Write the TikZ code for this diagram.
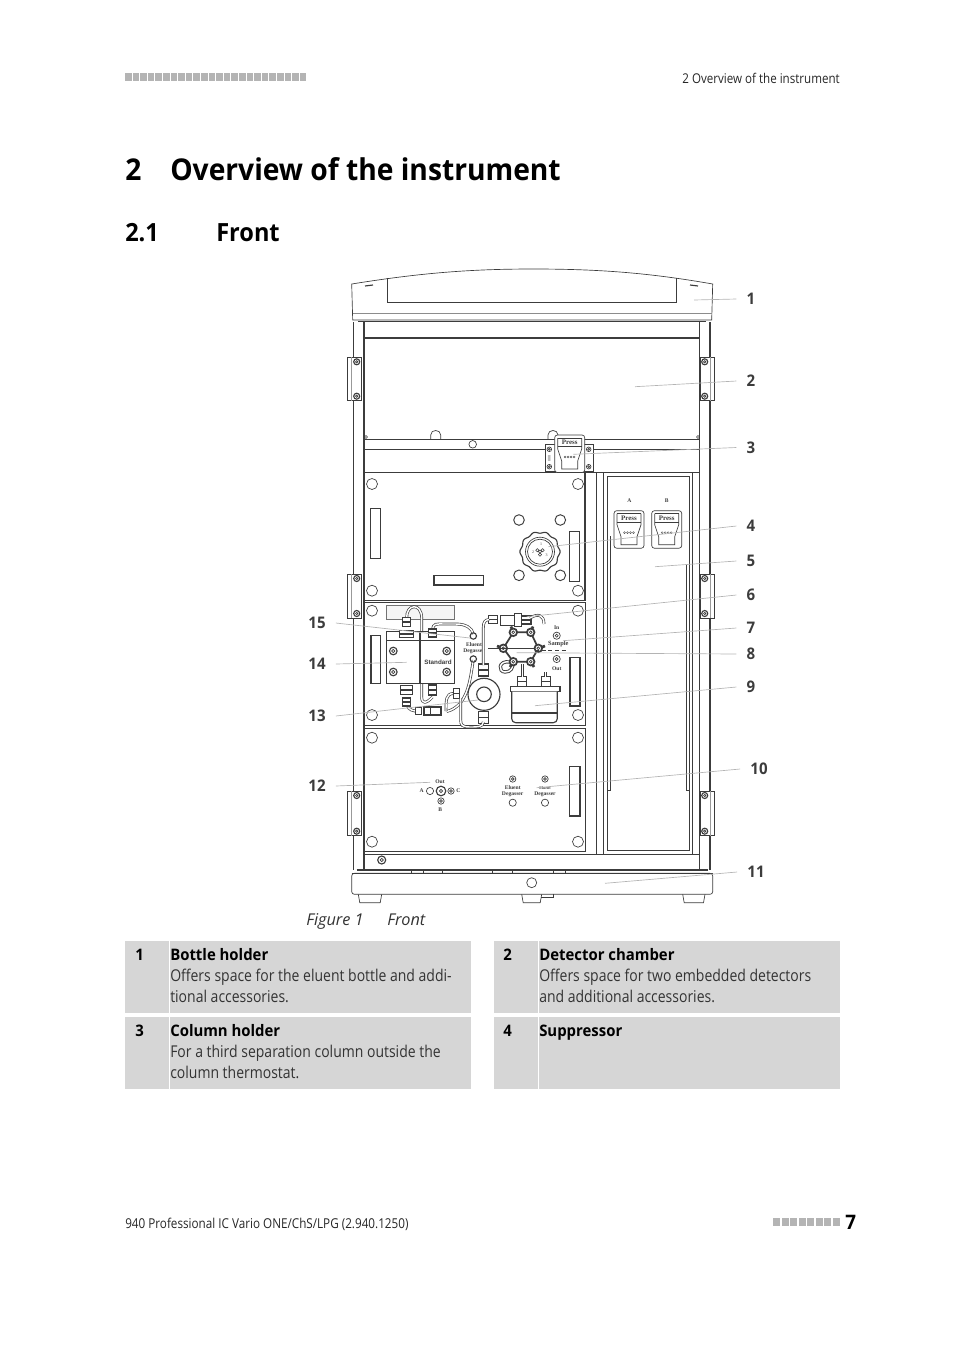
\documentclass[tikz,border=0pt]{standalone}
\usepackage{fontspec}
\setmainfont{Open Sans}[FakeStretch=0.86]
\newfontfamily\headfont{Open Sans}[FakeStretch=0.94]
\newfontfamily\capfont{Open Sans}
\newfontfamily\drawfont{Liberation Serif}
\newfontfamily\labelfont{Liberation Sans}
\definecolor{inkgray}{HTML}{3C3C3C}
\definecolor{leadgray}{HTML}{B4B4B4}
\definecolor{cellgray}{HTML}{D6D6D6}
\definecolor{markgray}{HTML}{B4B4B4}
\tikzset{
  outline/.style={draw=inkgray, line width=0.5pt},
  heavy/.style={draw=inkgray, line width=0.85pt},
  leader/.style={draw=leadgray, line width=0.5pt},
  tube/.style={draw=inkgray, double=white, double distance=1.1pt, line width=0.5pt},
  callout/.style={font=\headfont\fontsize{12}{14}\selectfont\bfseries, text=inkgray, inner xsep=7.5pt, inner ysep=1pt},
  bodytext/.style={font=\fontsize{12.2}{14}\selectfont, text=black!80, anchor=base west, inner sep=0pt},
  headtext/.style={font=\headfont\fontsize{11.9}{14}\selectfont\bfseries, text=black, anchor=base west, inner sep=0pt},
  tinytext/.style={font=\drawfont\bfseries\fontsize{4.2}{5}\selectfont, text=inkgray, inner sep=0pt},
  cell/.style={fill=cellgray, draw=none, anchor=north west, minimum width=259.5pt, minimum height=54pt, inner sep=0pt},
  pressclip/.pic={
    \draw[outline, fill=white, rounded corners=2] (-15,0) rectangle (15,37.5);
    \draw[outline] (-12,3) to (12,3);
    \draw[heavy] (-12,11.5) to (12,11.5);
    \draw[outline] (-12,3) to (-12,14) to (-8,26) to (-8,34) to (8,34) to (8,26) to (12,14) to (12,3);
    \node[tinytext, font=\drawfont\bfseries\fontsize{5.2}{6}\selectfont] (word) at (0,7.3) {Press};
    \foreach \d in {-4.5,-1.5,1.5,4.5} \draw[draw=inkgray, line width=0.25pt] (\d,22) circle (1);
  },
}
\begin{document}
\begin{tikzpicture}[x=0.75pt, y=-0.75pt]
\useasboundingbox (0,0) rectangle (954,1350);
\foreach \i in {0,...,23} \fill[markgray] (125+7.6*\i,73) rectangle ++(6.6,8);
\foreach \i in {0,...,7} \fill[markgray] (773+8.5*\i,1218) rectangle ++(7.2,8);
\node[anchor=base east, inner sep=0pt, font=\fontsize{10.1}{12}\selectfont, text=black!85] (running) at (840,83) {2 Overview of the instrument};
\node[anchor=base west, inner sep=0pt, font=\headfont\fontsize{22.5}{26}\selectfont\bfseries] (chapnum) at (125,180) {2};
\node[anchor=base west, inner sep=0pt, font=\headfont\fontsize{22.5}{26}\selectfont\bfseries] (chaptitle) at (170,180) {Overview of the instrument};
\node[anchor=base west, inner sep=0pt, font=\headfont\fontsize{18.8}{22}\selectfont\bfseries] (secnum) at (125,241) {2.1};
\node[anchor=base west, inner sep=0pt, font=\headfont\fontsize{18.8}{22}\selectfont\bfseries] (sectitle) at (216,241) {Front};
% lid
\draw[outline] (351.7,284) .. controls (420,273) and (470,269) .. (533,269) .. controls (600,269) and (650,273) .. (712.7,284) to (711.7,320) to (352.7,320) -- cycle;
\draw[draw=black!45, line width=0.4pt] (352.5,313.5) to (711.5,313.5);
\draw[outline] (387.7,278) to (387.7,302) to (676,302) to (676,278);
\draw[heavy] (365,286) to (373,285); \draw[heavy] (690,285) to (698,286);
\draw[heavy] (358,321.5) to (706,321.5);
% frame
\draw[heavy] (353.3,322) to (353.3,870);
\draw[heavy] (364,322) to (364,870);
\draw[heavy] (699.3,322) to (699.3,870);
\draw[heavy] (710,322) to (710,870);
\draw[heavy] (364,338) to (699.3,338);
\draw[heavy] (364,439.3) to (699.3,439.3);
\draw[outline] (364,449.3) to (699.3,449.3);
\draw[heavy] (585,472.5) to (699.3,472.5);
\draw[outline] (364,854) to (699.3,854);
\foreach \xa/\dx in {430.7/10, 548/10} \draw[outline] (\xa,439) to (\xa,435) .. controls (\xa,429) and (\xa+\dx,429) .. (\xa+\dx,435) to (\xa+\dx,439);
\draw[outline, fill=white] (472.7,444.3) circle (3.8);
\draw[outline] (366,437) circle (1.5);
\draw[outline] (698,437) circle (1.5);
% hinges
\foreach \ya/\yb in {357.3/400.7, 574/618, 791/835.7} {
  \draw[outline, fill=white] (347.3,\ya) rectangle (361.7,\yb);
  \draw[outline, fill=white] (700.7,\ya) rectangle (714,\yb);
  \draw[draw=black!40, line width=0.4pt] (351,\ya) to (351,\yb);
  \draw[draw=black!40, line width=0.4pt] (710.5,\ya) to (710.5,\yb);
  \foreach \xs in {356.7,704.7} \foreach \ys in {\ya+4.5,\yb-4.5} {
    \draw[heavy, fill=white] (\xs,\ys) circle (3);
    \draw[outline] (\xs,\ys) circle (1.2);
  }
}
% right chamber
\draw[heavy] (596.7,472) to (596.7,854);
\draw[outline] (603.3,472) to (603.3,854);
\draw[outline] (607.7,476) to (607.7,850) to (689,850) to (689,476) to cycle;
\draw[outline] (692.7,472) to (692.7,854);
\draw[outline] (610,536) to (610,790) to (607.7,790);
\draw[outline] (686,565) to (686,790) to (689,790);
\node[tinytext] (markA) at (629.3,500.7) {A};
\node[tinytext] (markB) at (666.7,500.7) {B};
\pic (clipA) at (629,510.7) {pressclip};
\pic (clipB) at (666.7,510.7) {pressclip};
% three panels
\draw[heavy, fill=white] (364.7,472.5) rectangle (585,600.7);
\draw[outline, fill=white] (364.7,602.5) rectangle (585,725.5);
\draw[outline, fill=white] (364.7,728.3) rectangle (585.7,851.7);
% column holder
\draw[outline, fill=white] (545,444.3) rectangle (593.3,471);
\foreach \xs in {549.3,588.7} \foreach \ys in {449.3,466.7} {
  \draw[outline] (\xs,\ys) circle (2.3);
  \draw[outline] (\xs,\ys) circle (1);
}
\pic (clipC) at (569.7,435) {pressclip};
\node[tinytext, rotate=90, font=\drawfont\fontsize{3}{4}\selectfont] (clipmark) at (549.3,458) {000};
\foreach \xh/\yh in {372/484, 578/484, 372/590.7, 578/590.7, 372/610.7, 578/610.7, 372/715, 578/715, 372/737.7, 578/737.7, 372/841.7, 578/841.7}
  \draw[outline] (\xh,\yh) circle (5.5);
\foreach \xh/\yh in {519/520, 560.3/520, 519/575.3, 560.3/575.3}
  \draw[outline, line width=0.7pt] (\xh,\yh) circle (5.3);
\foreach \xa/\ya/\xb/\yb in {370.7/508.7/380.7/558.3, 569.3/531.3/579.3/581.3, 434/575.3/483.7/585, 371/635.7/380.7/683.3, 570/657.3/580/706, 569.3/766.7/580/816}
  \draw[heavy, fill=white] (\xa,\ya) rectangle (\xb,\yb);
% knob
\draw[heavy] plot[domain=0:360, samples=121, smooth] ({540+(19.3+0.8*cos(10*\x))*cos(\x)},{551.7+(19.3+0.8*cos(10*\x))*sin(\x)});
\draw[outline] (540,551.7) circle (14.5);
\draw[outline] (540,551.7) circle (12.5);
\foreach \a in {90,210,330} \draw[draw=inkgray, line width=0.4pt] (540,551.7) +(\a:3) circle (1.6);
\draw[draw=inkgray, line width=0.4pt] (540,551.7) circle (1.6);
\node[tinytext, font=\drawfont\fontsize{3}{4}\selectfont] (knobone) at (541,544.5) {1};
\node[tinytext, font=\drawfont\fontsize{3}{4}\selectfont] (knobtwo) at (533,552) {2};
\node[tinytext, font=\drawfont\fontsize{3}{4}\selectfont] (knobthree) at (546.5,555) {3};
% separation columns
\draw[draw=black!55, line width=0.5pt, fill=black!4] (386.7,605) rectangle (454.7,619);
\draw[tube] (406.7,618) .. controls (406,604) and (421.5,602) .. (421.7,618) to (421.7,697) .. controls (421.7,704) and (426,704) .. (432.5,697);
\draw[tube] (432.7,630) .. controls (433,623) and (436,624) .. (445,624) to (456,624) .. controls (466,624) and (472,628) .. (473.3,634);
\draw[heavy, fill=white] (386.7,631.7) rectangle (420,683.3);
\draw[heavy, fill=white] (420,631.7) rectangle (454.3,683.3);
\draw[outline] (386.7,640) to (454.3,640);
\foreach \xs/\ys in {393.3/651, 393.3/672, 446.7/651, 446.7/672} {
  \draw[heavy] (\xs,\ys) circle (3.8);
  \draw[outline] (\xs,\ys) circle (1.6);
}
\node[font=\labelfont\bfseries\fontsize{4.7}{6}\selectfont, text=inkgray, inner sep=0pt] (standard) at (438,662.3) {Standard};
\draw[tube] (473.3,660) .. controls (470,680) and (468,706) .. (446.7,711.5);
\draw[tube] (446,711) .. controls (446,700) and (446,694) .. (453,693.5);
\draw[tube] (407,705) .. controls (409,710) and (412,711) .. (420,711.5);
\foreach \xn/\yn/\wn/\hn in {406.7/622/3.8/4.5, 406.7/634/7/3.5, 432.7/633/4/4, 406.7/690/6/4.2, 406.7/702/4/4, 432.7/690/4/5, 456.7/693.3/3.2/5, 483.3/670/5/6, 483.3/717.3/5/6, 522.3/681.7/4.5/5.5, 545.7/681.7/4.5/5.5, 492.7/619.3/4.5/4, 526/620/5/4}
  \draw[heavy, fill=white] (\xn-\wn,\yn-\hn) rectangle (\xn+\wn,\yn+\hn) (\xn-\wn,\yn) to (\xn+\wn,\yn);
\draw[outline, fill=white] (415,707.5) rectangle (421,714);
\draw[heavy, fill=white] (424,707) rectangle (441,715);
\draw[outline] (430,707) to (430,715);
% degasser ports
\draw[heavy] (473.3,636) circle (3.2);
\draw[heavy] (473.3,659) circle (3.2);
\node[tinytext] (eluenta) at (474,645) {Eluent};
\node[tinytext] (degassera) at (474,651) {Degasser};
% detector and tubing
\draw[tube] (483.3,665) to (483.3,628) .. controls (483.3,622) and (485,620) .. (489,619.5);
\draw[tube] (483.3,722) .. controls (483,727) and (478,727) .. (470,727) .. controls (462,727) and (460.7,725) .. (460.7,720) to (460.7,698);
\draw[heavy, fill=white] (484,694.3) circle (16);
\draw[heavy] (484,694.3) circle (7.3);
\draw[outline, fill=white] (500,615) rectangle (520,625);
\draw[outline, fill=white] (514,613.5) rectangle (521,626.5);
\draw[tube] (530,618) .. controls (538,613) and (544,615) .. (544,624);
% valve
\draw[tube] (522.3,677) to (522.3,664);
\draw[tube] (545.7,677) to (545.7,672);
\draw[tube, line width=0.7pt] (510,662) .. controls (498,660) and (498,672) .. (505,672) .. controls (511,672) and (513,668) .. (513.3,662);
\draw[heavy, line width=1.3pt] (513.3,632.3) to (530.7,632.3) to (538.3,648.3) to (530.7,661.7) to (513.3,661.7) to (503.3,648.3) to cycle;
\foreach \xv/\yv/\xw/\yw in {513.3/632.3/511/626.5, 530.7/632.3/533/626.5, 538.3/648.3/545/646, 530.7/661.7/534/667, 513.3/661.7/510/667, 503.3/648.3/497/646} {
  \draw[draw=inkgray, line width=2pt] (\xv,\yv) to (\xw,\yw);
  \draw[heavy, line width=1.3pt, fill=white] (\xv,\yv) circle (3.8);
  \draw[outline] (\xv,\yv) circle (1.4);
}
\draw[draw=inkgray, line width=1.1pt] (488.3,648.7) to (535,648.7);
\draw[draw=inkgray, line width=0.5pt, densely dashed] (535,650) to (567,650);
\foreach \ys in {635.7,659} {
  \draw[outline] (556.7,\ys) circle (3.6);
  \draw[outline] (556.7,\ys) circle (1.5);
}
\node[tinytext] (portin) at (556.7,627.3) {In};
\node[tinytext, font=\drawfont\bfseries\fontsize{4.8}{5}\selectfont] (portsample) at (558.3,644.3) {Sample};
\node[tinytext] (portout) at (556.7,668.3) {Out};
% bottle
\draw[heavy, fill=white] (510.7,686.7) rectangle (560,691.7);
\draw[heavy, fill=white, rounded corners=3] (511.7,691.7) to (511.7,722.7) to (557.3,722.7) to (557.3,691.7);
\draw[draw=inkgray, line width=1.5pt] (511.7,713.3) to (557.3,713.3);
% lower panel
\foreach \xs/\ys in {451/791, 441/801, 512.7/779, 545/779} {
  \draw[outline] (\xs,\ys) circle (3.2);
  \draw[outline] (\xs,\ys) circle (1.4);
}
\draw[heavy] (441,791) circle (4.8);
\draw[outline] (441,791) circle (1.6);
\foreach \xs/\ys in {430/791, 512.7/802.7, 545/802.7} \draw[outline] (\xs,\ys) circle (3.6);
\node[tinytext] (portout2) at (440,781.7) {Out};
\node[tinytext] (portA) at (421.7,791) {A};
\node[tinytext] (portC) at (458.3,791) {C};
\node[tinytext] (portB) at (440.3,810) {B};
\node[tinytext] (eluentb) at (512.7,787.7) {Eluent};
\node[tinytext] (degasserb) at (512.7,794.3) {Degasser};
\node[tinytext, font=\drawfont\bfseries\fontsize{3}{4}\selectfont] (eluentc) at (545,787.7) {Eluent};
\node[tinytext] (degasserc) at (545,794.3) {Degasser};
\draw[heavy] (381.7,860) circle (4);
\draw[outline] (381.7,860) circle (1.6);
% base
\draw[outline, fill=white, rounded corners=2] (351.7,873.3) to (351.7,894.3) to (712.7,894.3) to (712.7,873.3) -- cycle;
\draw[heavy] (356.7,870) to (707.7,870);
\draw[outline] (351.7,873.3) to (712.7,873.3);
\foreach \xa in {411.7,423.3,442.7,492.7,512.7,553.3,565.3} \draw[outline] (\xa,870) to (\xa,873.3);
\draw[outline] (531.7,882.7) circle (5);
\foreach \xa/\xb in {358.3/381.7, 521.7/541.7, 682.7/705}
  \draw[outline] (\xa,894.3) to (\xa+1.5,902.7) to (\xb-1.5,902.7) to (\xb,894.3);
\draw[outline] (541,897) to (553,897) to (553,894.3);
% callouts
\foreach \n/\xl/\yl/\xp/\yp in {1/751/299/694/300, 2/751/381/635/386.7, 3/751/447.5/573.3/454.3, 4/751/526/548.3/546.7, 5/751/561/655/566.7, 6/751/595/526.7/616.7, 7/751/628/563/640.7, 8/751/654/516.7/652.7, 9/751/687/535/705.7, 10/759/769/536.7/787.7, 11/756/872/605/883.3} {
  \coordinate (tip\n) at (\xp,\yp);
  \node[callout] (num\n) at (\xl,\yl) {\n};
  \draw[leader] (tip\n) to (num\n.west);
}
\foreach \n/\yl/\xp/\yp in {12/786/430/782.3, 13/716/478/700, 14/664/406.7/662.3, 15/623/470/638} {
  \coordinate (tip\n) at (\xp,\yp);
  \node[callout] (num\n) at (317,\yl) {\n};
  \draw[leader] (tip\n) to (num\n.east);
}
\node[anchor=base west, inner sep=0pt, font=\capfont\fontsize{12.2}{14}\selectfont\itshape, text=black!80] (figlabel) at (306,925) {Figure 1};
\node[anchor=base west, inner sep=0pt, font=\capfont\fontsize{12.2}{14}\selectfont\itshape, text=black!80] (figtitle) at (387,925) {Front};
% table
\node[cell] (cella) at (125,941) {};
\node[cell] (cellb) at (494,941) {};
\node[cell] (cellc) at (125,1017) {};
\node[cell] (celld) at (494,1017) {};
\foreach \c in {a,b,c,d} \draw[white, line width=0.5pt] ([xshift=33.5pt]cell\c.north west) to ([xshift=33.5pt]cell\c.south west);
\node[headtext] (numa) at (135,960) {1};
\node[headtext] (heada) at (170,960) {Bottle holder};
\node[bodytext] (texta1) at (170,981) {Offers space for the eluent bottle and addi-};
\node[bodytext] (texta2) at (170,1002) {tional accessories.};
\node[headtext] (numb) at (503,960) {2};
\node[headtext] (headb) at (539,960) {Detector chamber};
\node[bodytext] (textb1) at (539,981) {Offers space for two embedded detectors};
\node[bodytext] (textb2) at (539,1002) {and additional accessories.};
\node[headtext] (numc) at (135,1036) {3};
\node[headtext] (headc) at (170,1036) {Column holder};
\node[bodytext] (textc1) at (170,1057) {For a third separation column outside the};
\node[bodytext] (textc2) at (170,1078) {column thermostat.};
\node[headtext] (numd) at (503,1036) {4};
\node[headtext] (headd) at (539,1036) {Suppressor};
\node[anchor=base west, inner sep=0pt, font=\fontsize{10.2}{12}\selectfont, text=black!85] (footer) at (125,1228) {940 Professional IC Vario ONE/ChS/LPG (2.940.1250)};
\node[anchor=base west, inner sep=0pt, font=\headfont\fontsize{15}{18}\selectfont\bfseries] (pageno) at (845,1229) {7};
\end{tikzpicture}
\end{document}
